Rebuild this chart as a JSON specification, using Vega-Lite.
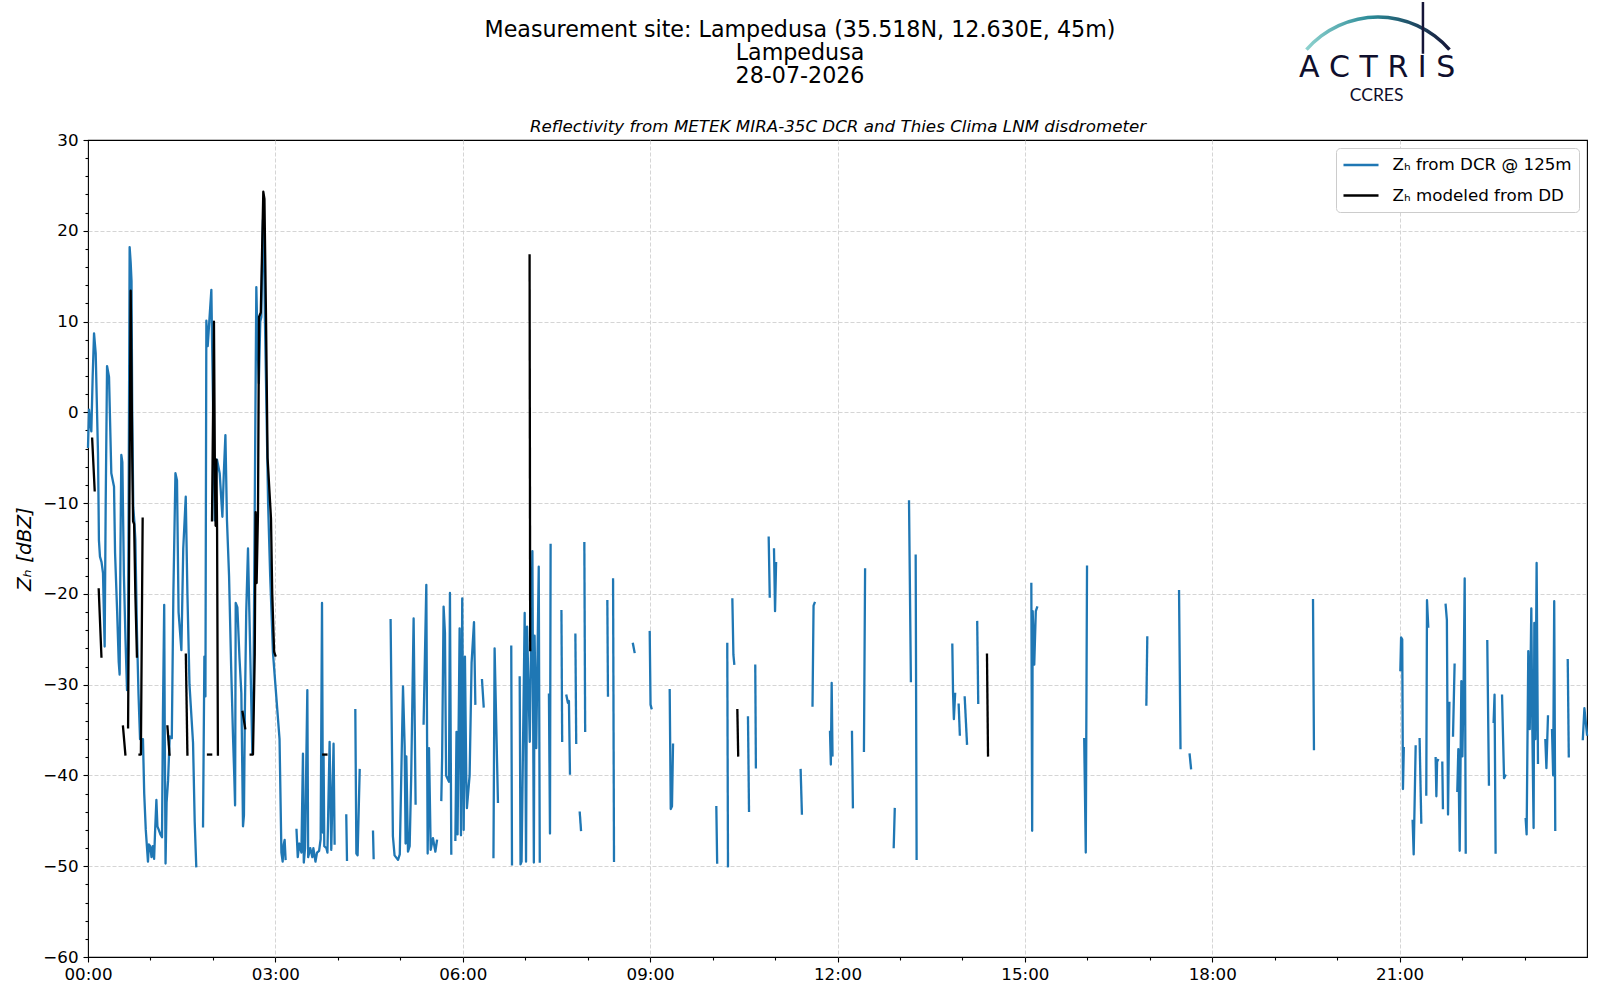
{
"$schema": "https://vega.github.io/schema/vega-lite/v6.json",
"autosize": {"type": "none"},
"padding": {"left": 88, "top": 140, "right": 13, "bottom": 43},
"width": 1499,
"height": 817,
"background": "white",
"config": {
  "font": "DejaVu Sans",
  "view": {"stroke": "#000000", "strokeWidth": 1.1},
  "axis": {"labelFont": "DejaVu Sans", "labelFontSize": 16.7, "labelColor": "#000000", "tickColor": "#000000", "tickWidth": 1.1, "domain": false, "gridColor": "#d0d0d0", "gridDash": [4, 2], "gridWidth": 0.9, "titleFont": "DejaVu Sans", "titleColor": "#000000", "titleFontWeight": "normal", "labelOverlap": false, "labelFlush": false, "labelBound": false}
},
"title": {"text": ["Measurement site: Lampedusa (35.518N, 12.630E, 45m)", "Lampedusa", "28-07-2026"], "font": "DejaVu Sans", "fontSize": 22.2, "fontWeight": "normal", "color": "#000000", "anchor": "middle", "frame": "group", "dx": -37.5, "offset": -86, "lineHeight": 23},
"data": {"values": [
{"src":"DCR","s":1,"m":0,"z":-3.8},{"src":"DCR","s":1,"m":1,"z":0.3},{"src":"DCR","s":1,"m":2,"z":-1},{"src":"DCR","s":1,"m":3.2,"z":-2.1},{"src":"DCR","s":1,"m":4.5,"z":4},{"src":"DCR","s":1,"m":5.8,"z":8.7},{"src":"DCR","s":1,"m":7.4,"z":6.5},{"src":"DCR","s":1,"m":9.6,"z":-4.5},{"src":"DCR","s":1,"m":10.5,"z":-14.1},{"src":"DCR","s":1,"m":11.5,"z":-15.9},{"src":"DCR","s":1,"m":13,"z":-16.5},{"src":"DCR","s":1,"m":14.4,"z":-17.7},{"src":"DCR","s":1,"m":15.2,"z":-22},{"src":"DCR","s":1,"m":16,"z":-25.8},{"src":"DCR","s":1,"m":17,"z":-10},{"src":"DCR","s":1,"m":18.3,"z":5.1},{"src":"DCR","s":1,"m":20.2,"z":3.9},{"src":"DCR","s":1,"m":22.4,"z":-6.7},{"src":"DCR","s":1,"m":25,"z":-8.2},{"src":"DCR","s":1,"m":26,"z":-15.5},{"src":"DCR","s":1,"m":28,"z":-22},{"src":"DCR","s":1,"m":29.5,"z":-27.5},{"src":"DCR","s":1,"m":30.4,"z":-28.9},{"src":"DCR","s":1,"m":31.2,"z":-15},{"src":"DCR","s":1,"m":32,"z":-4.7},{"src":"DCR","s":1,"m":33,"z":-5.5},{"src":"DCR","s":1,"m":34.5,"z":-18},{"src":"DCR","s":1,"m":36,"z":-25},{"src":"DCR","s":1,"m":37.5,"z":-30.6},{"src":"DCR","s":1,"m":38.5,"z":-26},{"src":"DCR","s":1,"m":40,"z":18.2},{"src":"DCR","s":1,"m":41,"z":16.5},{"src":"DCR","s":1,"m":41.8,"z":14.5},{"src":"DCR","s":1,"m":42.5,"z":0},{"src":"DCR","s":1,"m":43.5,"z":-10.5},{"src":"DCR","s":1,"m":44.5,"z":-12},{"src":"DCR","s":1,"m":45.5,"z":-14},{"src":"DCR","s":1,"m":47,"z":-24},{"src":"DCR","s":1,"m":48.5,"z":-31},{"src":"DCR","s":1,"m":50,"z":-36},{"src":"DCR","s":1,"m":52.8,"z":-36},{"src":"DCR","s":1,"m":54,"z":-42},{"src":"DCR","s":1,"m":55.5,"z":-46},{"src":"DCR","s":1,"m":57.6,"z":-49.5},{"src":"DCR","s":1,"m":58.5,"z":-47.6},{"src":"DCR","s":1,"m":59.8,"z":-47.8},{"src":"DCR","s":1,"m":61,"z":-49},{"src":"DCR","s":1,"m":62.3,"z":-47.8},{"src":"DCR","s":1,"m":63.5,"z":-49.2},{"src":"DCR","s":1,"m":64.5,"z":-46},{"src":"DCR","s":1,"m":65.7,"z":-42.7},{"src":"DCR","s":1,"m":66.7,"z":-45.6},{"src":"DCR","s":1,"m":68,"z":-46},{"src":"DCR","s":1,"m":69.5,"z":-46.5},{"src":"DCR","s":1,"m":71.1,"z":-46.8},{"src":"DCR","s":1,"m":72,"z":-33.1},{"src":"DCR","s":1,"m":73.2,"z":-21.2},{"src":"DCR","s":1,"m":73.7,"z":-34.4},{"src":"DCR","s":1,"m":74.5,"z":-49.7},{"src":"DCR","s":1,"m":75.5,"z":-43},{"src":"DCR","s":1,"m":76.9,"z":-40.6},{"src":"DCR","s":1,"m":78.5,"z":-35.7},{"src":"DCR","s":1,"m":80.5,"z":-35.9},{"src":"DCR","s":1,"m":82,"z":-20},{"src":"DCR","s":1,"m":84,"z":-6.7},{"src":"DCR","s":1,"m":85.5,"z":-7.5},{"src":"DCR","s":1,"m":87,"z":-22},{"src":"DCR","s":1,"m":89.7,"z":-26.2},{"src":"DCR","s":1,"m":91.5,"z":-15},{"src":"DCR","s":1,"m":93.9,"z":-9.3},{"src":"DCR","s":1,"m":95.5,"z":-20},{"src":"DCR","s":1,"m":97.5,"z":-30},{"src":"DCR","s":1,"m":100.9,"z":-36.4},{"src":"DCR","s":1,"m":102.5,"z":-45.1},{"src":"DCR","s":1,"m":104,"z":-50},
{"src":"DCR","s":2,"m":110.5,"z":-45.6},{"src":"DCR","s":2,"m":111.8,"z":-26.9},{"src":"DCR","s":2,"m":112.8,"z":-31.3},{"src":"DCR","s":2,"m":113.7,"z":10.1},{"src":"DCR","s":2,"m":115,"z":7.3},{"src":"DCR","s":2,"m":116.5,"z":10},{"src":"DCR","s":2,"m":118.5,"z":13.5},{"src":"DCR","s":2,"m":119.3,"z":7},{"src":"DCR","s":2,"m":120.5,"z":-2},{"src":"DCR","s":2,"m":121.7,"z":-11.9},{"src":"DCR","s":2,"m":123.9,"z":-5.2},{"src":"DCR","s":2,"m":126.5,"z":-6.7},{"src":"DCR","s":2,"m":129.1,"z":-11.5},{"src":"DCR","s":2,"m":130.5,"z":-6.6},{"src":"DCR","s":2,"m":132,"z":-2.5},{"src":"DCR","s":2,"m":133.5,"z":-11.9},{"src":"DCR","s":2,"m":135.5,"z":-18},{"src":"DCR","s":2,"m":137.5,"z":-28},{"src":"DCR","s":2,"m":139.3,"z":-35.7},{"src":"DCR","s":2,"m":140.5,"z":-40},{"src":"DCR","s":2,"m":141.3,"z":-43.3},{"src":"DCR","s":2,"m":141.9,"z":-21},{"src":"DCR","s":2,"m":143.5,"z":-21.5},{"src":"DCR","s":2,"m":145.5,"z":-27},{"src":"DCR","s":2,"m":147.3,"z":-30.9},{"src":"DCR","s":2,"m":148.9,"z":-45.6},{"src":"DCR","s":2,"m":149.8,"z":-44.4},{"src":"DCR","s":2,"m":150.7,"z":-33},{"src":"DCR","s":2,"m":152,"z":-22},{"src":"DCR","s":2,"m":153.7,"z":-15},{"src":"DCR","s":2,"m":155,"z":-22},{"src":"DCR","s":2,"m":156.3,"z":-28.9},{"src":"DCR","s":2,"m":157.9,"z":-37.6},{"src":"DCR","s":2,"m":159,"z":-30},{"src":"DCR","s":2,"m":160.5,"z":-5},{"src":"DCR","s":2,"m":161.7,"z":13.8},{"src":"DCR","s":2,"m":162.8,"z":8},{"src":"DCR","s":2,"m":164.1,"z":3.2},{"src":"DCR","s":2,"m":165.5,"z":10},{"src":"DCR","s":2,"m":166.5,"z":10.5},{"src":"DCR","s":2,"m":167.5,"z":18},{"src":"DCR","s":2,"m":168.1,"z":21.2},{"src":"DCR","s":2,"m":169,"z":19},{"src":"DCR","s":2,"m":170,"z":10},{"src":"DCR","s":2,"m":171.5,"z":0},{"src":"DCR","s":2,"m":173,"z":-10},{"src":"DCR","s":2,"m":175,"z":-18},{"src":"DCR","s":2,"m":177.7,"z":-26.5},{"src":"DCR","s":2,"m":180,"z":-30},{"src":"DCR","s":2,"m":182,"z":-33},{"src":"DCR","s":2,"m":184,"z":-36},{"src":"DCR","s":2,"m":185.8,"z":-48.5},{"src":"DCR","s":2,"m":187,"z":-49.5},{"src":"DCR","s":2,"m":188,"z":-47.6},{"src":"DCR","s":2,"m":188.9,"z":-47.1},{"src":"DCR","s":2,"m":189.8,"z":-49.2},
{"src":"DCR","s":3,"m":200.3,"z":-46},{"src":"DCR","s":3,"m":201.5,"z":-49},{"src":"DCR","s":3,"m":203,"z":-47.5},{"src":"DCR","s":3,"m":205,"z":-48.5},{"src":"DCR","s":3,"m":206.5,"z":-37.6},{"src":"DCR","s":3,"m":207.3,"z":-49.6},{"src":"DCR","s":3,"m":208.5,"z":-48},{"src":"DCR","s":3,"m":210.7,"z":-30.6},{"src":"DCR","s":3,"m":211.5,"z":-49},{"src":"DCR","s":3,"m":213.5,"z":-48},{"src":"DCR","s":3,"m":215.5,"z":-49},{"src":"DCR","s":3,"m":216.5,"z":-48},{"src":"DCR","s":3,"m":218.5,"z":-49.5},{"src":"DCR","s":3,"m":220,"z":-48.5},{"src":"DCR","s":3,"m":222,"z":-48.3},{"src":"DCR","s":3,"m":223.5,"z":-47},{"src":"DCR","s":3,"m":224.8,"z":-21},{"src":"DCR","s":3,"m":225.7,"z":-46.3},{"src":"DCR","s":3,"m":226.3,"z":-37.7},{"src":"DCR","s":3,"m":227,"z":-47.8},{"src":"DCR","s":3,"m":229,"z":-48},{"src":"DCR","s":3,"m":230,"z":-48.5},{"src":"DCR","s":3,"m":232.1,"z":-36.3},{"src":"DCR","s":3,"m":233.7,"z":-48.2},{"src":"DCR","s":3,"m":235.9,"z":-36.5},{"src":"DCR","s":3,"m":236.9,"z":-47.5},
{"src":"DCR","s":4,"m":248.1,"z":-44.4},{"src":"DCR","s":4,"m":248.8,"z":-49.3},
{"src":"DCR","s":5,"m":256.8,"z":-32.8},{"src":"DCR","s":5,"m":257.8,"z":-48.6},{"src":"DCR","s":5,"m":259,"z":-48.8},{"src":"DCR","s":5,"m":261,"z":-39.4},
{"src":"DCR","s":6,"m":273.8,"z":-46.2},{"src":"DCR","s":6,"m":274.4,"z":-49.1},
{"src":"DCR","s":7,"m":290.7,"z":-22.9},{"src":"DCR","s":7,"m":292.9,"z":-46.7},{"src":"DCR","s":7,"m":294.5,"z":-48.8},{"src":"DCR","s":7,"m":297.8,"z":-49.3},{"src":"DCR","s":7,"m":299.5,"z":-48.7},{"src":"DCR","s":7,"m":302.6,"z":-30.2},{"src":"DCR","s":7,"m":304.2,"z":-36.8},{"src":"DCR","s":7,"m":305.1,"z":-47.5},{"src":"DCR","s":7,"m":305.8,"z":-37.9},{"src":"DCR","s":7,"m":307.4,"z":-48.4},{"src":"DCR","s":7,"m":309,"z":-47.8},{"src":"DCR","s":7,"m":310.5,"z":-40},{"src":"DCR","s":7,"m":312.8,"z":-22.7},{"src":"DCR","s":7,"m":314.7,"z":-43.1},
{"src":"DCR","s":8,"m":322.4,"z":-34.3},{"src":"DCR","s":8,"m":325,"z":-19},{"src":"DCR","s":8,"m":326.3,"z":-48.6},{"src":"DCR","s":8,"m":327.6,"z":-37},{"src":"DCR","s":8,"m":329.2,"z":-48.2},{"src":"DCR","s":8,"m":331.4,"z":-46.9},{"src":"DCR","s":8,"m":333.7,"z":-48.4},{"src":"DCR","s":8,"m":335.2,"z":-47.2},
{"src":"DCR","s":9,"m":339.4,"z":-42.7},{"src":"DCR","s":9,"m":340.2,"z":-38},{"src":"DCR","s":9,"m":341.6,"z":-21.4},{"src":"DCR","s":9,"m":342.9,"z":-24.3},{"src":"DCR","s":9,"m":344,"z":-40},{"src":"DCR","s":9,"m":346.8,"z":-40.7},{"src":"DCR","s":9,"m":347.7,"z":-19.9},{"src":"DCR","s":9,"m":349,"z":-48.6},
{"src":"DCR","s":10,"m":352.9,"z":-47.1},{"src":"DCR","s":10,"m":354,"z":-35.2},{"src":"DCR","s":10,"m":355,"z":-46.5},{"src":"DCR","s":10,"m":357,"z":-23.8},{"src":"DCR","s":10,"m":358.3,"z":-46.6},{"src":"DCR","s":10,"m":359.5,"z":-20.5},{"src":"DCR","s":10,"m":360.9,"z":-46},{"src":"DCR","s":10,"m":362.1,"z":-26.9},{"src":"DCR","s":10,"m":363.4,"z":-40.5},{"src":"DCR","s":10,"m":364,"z":-43.6},{"src":"DCR","s":10,"m":366.6,"z":-40},{"src":"DCR","s":10,"m":368.5,"z":-27.6},{"src":"DCR","s":10,"m":370.8,"z":-23.1},{"src":"DCR","s":10,"m":372.1,"z":-32.1},
{"src":"DCR","s":11,"m":378.5,"z":-29.5},{"src":"DCR","s":11,"m":380.1,"z":-32.4},
{"src":"DCR","s":12,"m":389.5,"z":-49},{"src":"DCR","s":12,"m":390.6,"z":-26},{"src":"DCR","s":12,"m":393.8,"z":-42.9},
{"src":"DCR","s":13,"m":406.6,"z":-25.8},{"src":"DCR","s":13,"m":407.3,"z":-49.8},
{"src":"DCR","s":14,"m":414.7,"z":-29.2},{"src":"DCR","s":14,"m":415.5,"z":-49.8},{"src":"DCR","s":14,"m":416.5,"z":-49.5},{"src":"DCR","s":14,"m":419.5,"z":-22.1},{"src":"DCR","s":14,"m":420.8,"z":-49.5},{"src":"DCR","s":14,"m":421.8,"z":-23.6},{"src":"DCR","s":14,"m":424.4,"z":-36.3},{"src":"DCR","s":14,"m":426.9,"z":-15.3},{"src":"DCR","s":14,"m":428.3,"z":-49.6},{"src":"DCR","s":14,"m":429,"z":-24.6},{"src":"DCR","s":14,"m":430.6,"z":-37},{"src":"DCR","s":14,"m":433,"z":-17},{"src":"DCR","s":14,"m":434,"z":-49.5},
{"src":"DCR","s":15,"m":442.8,"z":-31.1},{"src":"DCR","s":15,"m":443.8,"z":-46.4},{"src":"DCR","s":15,"m":444.4,"z":-14.6},
{"src":"DCR","s":16,"m":454.8,"z":-21.9},{"src":"DCR","s":16,"m":455.5,"z":-36.2},
{"src":"DCR","s":17,"m":459.6,"z":-31.2},{"src":"DCR","s":17,"m":461,"z":-32},{"src":"DCR","s":17,"m":462,"z":-31.8},{"src":"DCR","s":17,"m":463,"z":-39.8},
{"src":"DCR","s":18,"m":468.2,"z":-24.5},{"src":"DCR","s":18,"m":469,"z":-36.4},
{"src":"DCR","s":19,"m":472.4,"z":-44.1},{"src":"DCR","s":19,"m":473.6,"z":-46},
{"src":"DCR","s":20,"m":476.8,"z":-14.4},{"src":"DCR","s":20,"m":477.6,"z":-35.1},
{"src":"DCR","s":21,"m":498.9,"z":-20.8},{"src":"DCR","s":21,"m":499.5,"z":-31.2},
{"src":"DCR","s":22,"m":504.4,"z":-18.4},{"src":"DCR","s":22,"m":505.3,"z":-49.4},
{"src":"DCR","s":23,"m":523.5,"z":-25.5},{"src":"DCR","s":23,"m":525,"z":-26.4},
{"src":"DCR","s":24,"m":539.6,"z":-24.2},{"src":"DCR","s":24,"m":540.4,"z":-32.2},{"src":"DCR","s":24,"m":541.3,"z":-32.6},
{"src":"DCR","s":25,"m":558.8,"z":-30.6},{"src":"DCR","s":25,"m":559.8,"z":-43.7},{"src":"DCR","s":25,"m":561,"z":-43.4},{"src":"DCR","s":25,"m":562,"z":-36.6},
{"src":"DCR","s":26,"m":603.6,"z":-43.5},{"src":"DCR","s":26,"m":604.4,"z":-49.6},
{"src":"DCR","s":27,"m":614.1,"z":-25.5},{"src":"DCR","s":27,"m":614.8,"z":-50},
{"src":"DCR","s":28,"m":619,"z":-20.6},{"src":"DCR","s":28,"m":620,"z":-26.7},{"src":"DCR","s":28,"m":620.8,"z":-27.7},
{"src":"DCR","s":29,"m":634,"z":-33.6},{"src":"DCR","s":29,"m":635,"z":-43.9},
{"src":"DCR","s":30,"m":641,"z":-27.9},{"src":"DCR","s":30,"m":641.6,"z":-39.1},
{"src":"DCR","s":31,"m":653.9,"z":-13.8},{"src":"DCR","s":31,"m":654.9,"z":-20.3},
{"src":"DCR","s":32,"m":659,"z":-15.1},{"src":"DCR","s":32,"m":660,"z":-21.9},{"src":"DCR","s":32,"m":661,"z":-16.6},
{"src":"DCR","s":33,"m":684.6,"z":-39.4},{"src":"DCR","s":33,"m":685.8,"z":-44.2},
{"src":"DCR","s":34,"m":696,"z":-32.3},{"src":"DCR","s":34,"m":697,"z":-21.3},{"src":"DCR","s":34,"m":698,"z":-21},
{"src":"DCR","s":35,"m":712.8,"z":-35.2},{"src":"DCR","s":35,"m":713.6,"z":-38.8},{"src":"DCR","s":35,"m":714.4,"z":-29.8},{"src":"DCR","s":35,"m":715.2,"z":-37.8},
{"src":"DCR","s":36,"m":733.9,"z":-35.2},{"src":"DCR","s":36,"m":734.8,"z":-43.5},
{"src":"DCR","s":37,"m":745.4,"z":-37.3},{"src":"DCR","s":37,"m":746.5,"z":-17.3},
{"src":"DCR","s":38,"m":774,"z":-47.9},{"src":"DCR","s":38,"m":775,"z":-43.7},
{"src":"DCR","s":39,"m":788.7,"z":-9.8},{"src":"DCR","s":39,"m":790.5,"z":-29.6},
{"src":"DCR","s":40,"m":795.1,"z":-15.8},{"src":"DCR","s":40,"m":796,"z":-49.2},
{"src":"DCR","s":41,"m":830.3,"z":-25.6},{"src":"DCR","s":41,"m":831,"z":-30.9},{"src":"DCR","s":41,"m":831.8,"z":-33.8},{"src":"DCR","s":41,"m":833,"z":-31},
{"src":"DCR","s":42,"m":836.4,"z":-32.2},{"src":"DCR","s":42,"m":837.5,"z":-35.5},
{"src":"DCR","s":43,"m":842.2,"z":-31.4},{"src":"DCR","s":43,"m":844.4,"z":-36.5},
{"src":"DCR","s":44,"m":854.2,"z":-23.1},{"src":"DCR","s":44,"m":855.2,"z":-32},
{"src":"DCR","s":45,"m":906.2,"z":-18.9},{"src":"DCR","s":45,"m":907,"z":-46.1},{"src":"DCR","s":45,"m":907.5,"z":-21.9},{"src":"DCR","s":45,"m":909,"z":-27.8},{"src":"DCR","s":45,"m":910.5,"z":-21.9},{"src":"DCR","s":45,"m":911.7,"z":-21.5},
{"src":"DCR","s":46,"m":957,"z":-36},{"src":"DCR","s":46,"m":958.5,"z":-48.5},{"src":"DCR","s":46,"m":959.7,"z":-17},
{"src":"DCR","s":47,"m":1016.7,"z":-32.2},{"src":"DCR","s":47,"m":1017.6,"z":-24.8},
{"src":"DCR","s":48,"m":1048.1,"z":-19.7},{"src":"DCR","s":48,"m":1049.5,"z":-37},
{"src":"DCR","s":49,"m":1058.3,"z":-37.7},{"src":"DCR","s":49,"m":1059.6,"z":-39.2},
{"src":"DCR","s":50,"m":1176.8,"z":-20.7},{"src":"DCR","s":50,"m":1177.7,"z":-37.1},
{"src":"DCR","s":51,"m":1260.7,"z":-28.4},{"src":"DCR","s":51,"m":1261.4,"z":-24.8},{"src":"DCR","s":51,"m":1262.5,"z":-25},{"src":"DCR","s":51,"m":1263.2,"z":-41.5},{"src":"DCR","s":51,"m":1264,"z":-37},
{"src":"DCR","s":52,"m":1272.5,"z":-45},{"src":"DCR","s":52,"m":1273.5,"z":-48.7},{"src":"DCR","s":52,"m":1275.4,"z":-36.8},
{"src":"DCR","s":53,"m":1279.2,"z":-36},{"src":"DCR","s":53,"m":1280.8,"z":-45.2},
{"src":"DCR","s":54,"m":1285.6,"z":-42.1},{"src":"DCR","s":54,"m":1286.3,"z":-20.7},{"src":"DCR","s":54,"m":1287.5,"z":-23.6},
{"src":"DCR","s":55,"m":1294.6,"z":-38.1},{"src":"DCR","s":55,"m":1295.3,"z":-42.3},{"src":"DCR","s":55,"m":1296,"z":-38.5},{"src":"DCR","s":55,"m":1296.8,"z":-38.3},
{"src":"DCR","s":56,"m":1301,"z":-38.6},{"src":"DCR","s":56,"m":1301.6,"z":-43.6},
{"src":"DCR","s":57,"m":1304.2,"z":-21.2},{"src":"DCR","s":57,"m":1305.4,"z":-22.9},{"src":"DCR","s":57,"m":1306.5,"z":-44.3},{"src":"DCR","s":57,"m":1307.8,"z":-32},
{"src":"DCR","s":58,"m":1311.3,"z":-35.6},{"src":"DCR","s":58,"m":1312.8,"z":-27.8},
{"src":"DCR","s":59,"m":1315.4,"z":-41.7},{"src":"DCR","s":59,"m":1316.4,"z":-37.1},{"src":"DCR","s":59,"m":1317.7,"z":-48.3},{"src":"DCR","s":59,"m":1319.3,"z":-29.6},{"src":"DCR","s":59,"m":1320.3,"z":-37.9},{"src":"DCR","s":59,"m":1321.5,"z":-29.5},{"src":"DCR","s":59,"m":1322.5,"z":-18.3},{"src":"DCR","s":59,"m":1323.5,"z":-48.5},
{"src":"DCR","s":60,"m":1344.2,"z":-25.2},{"src":"DCR","s":60,"m":1345.8,"z":-41},
{"src":"DCR","s":61,"m":1350.3,"z":-34.1},{"src":"DCR","s":61,"m":1351.2,"z":-31.1},{"src":"DCR","s":61,"m":1352.2,"z":-48.5},
{"src":"DCR","s":62,"m":1358.4,"z":-31.2},{"src":"DCR","s":62,"m":1360.3,"z":-40.3},{"src":"DCR","s":62,"m":1361.5,"z":-40},
{"src":"DCR","s":63,"m":1381.1,"z":-44.8},{"src":"DCR","s":63,"m":1382,"z":-46.5},{"src":"DCR","s":63,"m":1383.6,"z":-26.3},{"src":"DCR","s":63,"m":1385,"z":-34.9},{"src":"DCR","s":63,"m":1386.5,"z":-21.6},{"src":"DCR","s":63,"m":1387.5,"z":-34.9},{"src":"DCR","s":63,"m":1388.7,"z":-45.8},{"src":"DCR","s":63,"m":1389.4,"z":-23.2},{"src":"DCR","s":63,"m":1390.4,"z":-36},{"src":"DCR","s":63,"m":1391.6,"z":-16.6},{"src":"DCR","s":63,"m":1392.9,"z":-38.6},
{"src":"DCR","s":64,"m":1400,"z":-36.1},{"src":"DCR","s":64,"m":1401,"z":-39.2},{"src":"DCR","s":64,"m":1402.5,"z":-33.5},
{"src":"DCR","s":65,"m":1406.4,"z":-35},{"src":"DCR","s":65,"m":1407.5,"z":-40},{"src":"DCR","s":65,"m":1408.5,"z":-20.8},{"src":"DCR","s":65,"m":1409.5,"z":-46},
{"src":"DCR","s":66,"m":1421.5,"z":-27.3},{"src":"DCR","s":66,"m":1422.5,"z":-37.9},
{"src":"DCR","s":67,"m":1436,"z":-36},{"src":"DCR","s":67,"m":1437.5,"z":-32.6},{"src":"DCR","s":67,"m":1440,"z":-35.5},
{"src":"DD","s":101,"m":4,"z":-2.9},{"src":"DD","s":101,"m":6.4,"z":-8.6},
{"src":"DD","s":102,"m":10.3,"z":-19.5},{"src":"DD","s":102,"m":12.9,"z":-26.9},
{"src":"DD","s":103,"m":33.6,"z":-34.6},{"src":"DD","s":103,"m":35.9,"z":-37.7},
{"src":"DD","s":104,"m":38.5,"z":-34.7},{"src":"DD","s":104,"m":41,"z":13.4},{"src":"DD","s":104,"m":41.8,"z":5},{"src":"DD","s":104,"m":42.5,"z":-5},{"src":"DD","s":104,"m":43.3,"z":-12},{"src":"DD","s":104,"m":44.3,"z":-12.3},{"src":"DD","s":104,"m":45.5,"z":-20},{"src":"DD","s":104,"m":47,"z":-26.9},
{"src":"DD","s":105,"m":49.5,"z":-37.7},{"src":"DD","s":105,"m":50.8,"z":-37.7},{"src":"DD","s":105,"m":52.5,"z":-11.7},
{"src":"DD","s":106,"m":76.3,"z":-34.6},{"src":"DD","s":106,"m":78.3,"z":-37.7},
{"src":"DD","s":107,"m":94,"z":-26.7},{"src":"DD","s":107,"m":95.5,"z":-37.7},
{"src":"DD","s":108,"m":115.3,"z":-37.7},{"src":"DD","s":108,"m":118.3,"z":-37.7},
{"src":"DD","s":109,"m":119.1,"z":-11.9},{"src":"DD","s":109,"m":121,"z":10},{"src":"DD","s":109,"m":122,"z":-8},{"src":"DD","s":109,"m":122.6,"z":-12.5},{"src":"DD","s":109,"m":123.3,"z":-5.2},{"src":"DD","s":109,"m":124,"z":-12.9},{"src":"DD","s":109,"m":124.8,"z":-37.7},
{"src":"DD","s":110,"m":148.5,"z":-33},{"src":"DD","s":110,"m":151,"z":-34.8},
{"src":"DD","s":111,"m":156.3,"z":-37.7},{"src":"DD","s":111,"m":158.5,"z":-37.7},{"src":"DD","s":111,"m":160.2,"z":-26.6},{"src":"DD","s":111,"m":161,"z":-11},{"src":"DD","s":111,"m":162,"z":-18.8},{"src":"DD","s":111,"m":163.3,"z":-11},{"src":"DD","s":111,"m":164.3,"z":10.5},{"src":"DD","s":111,"m":166,"z":11},{"src":"DD","s":111,"m":168.4,"z":24.3},{"src":"DD","s":111,"m":169.5,"z":23.5},{"src":"DD","s":111,"m":171,"z":10.5},{"src":"DD","s":111,"m":172.5,"z":-5},{"src":"DD","s":111,"m":175.8,"z":-11.7},{"src":"DD","s":111,"m":177,"z":-20},{"src":"DD","s":111,"m":178.8,"z":-26.4},{"src":"DD","s":111,"m":180,"z":-26.8},
{"src":"DD","s":112,"m":226,"z":-37.7},{"src":"DD","s":112,"m":229,"z":-37.7},
{"src":"DD","s":113,"m":424.2,"z":17.3},{"src":"DD","s":113,"m":424.8,"z":-26.2},
{"src":"DD","s":114,"m":623.8,"z":-32.8},{"src":"DD","s":114,"m":624.6,"z":-37.8},
{"src":"DD","s":115,"m":863.6,"z":-26.7},{"src":"DD","s":115,"m":864.6,"z":-37.8}
]},
"layer": [
{
  "transform": [{"filter": "datum.src === 'DCR'"}],
  "mark": {"type": "line", "strokeWidth": 2.3, "strokeJoin": "round", "strokeCap": "square"},
  "encoding": {
    "x": {"field": "m", "type": "quantitative", "scale": {"domain": [0, 1440], "nice": false, "zero": false},
      "axis": {"orient": "bottom", "title": null, "values": [0,60,120,180,240,300,360,420,480,540,600,660,720,780,840,900,960,1020,1080,1140,1200,1260,1320,1380],
        "labelExpr": "datum.value % 180 === 0 ? ((datum.value < 600 ? '0' : '') + (datum.value / 60) + ':00') : ''",
        "tickSize": {"condition": {"test": "datum.value % 180 === 0", "value": 5}, "value": 3},
        "grid": true,
        "gridOpacity": {"condition": {"test": "datum.value % 180 === 0 && datum.value > 0", "value": 1}, "value": 0},
        "labelPadding": 4}},
    "y": {"field": "z", "type": "quantitative", "scale": {"domain": [-60, 30], "nice": false, "zero": false},
      "axis": {"orient": "left", "title": "Zₕ [dBZ]", "titleFontStyle": "italic", "titleFontSize": 20, "titlePadding": 8,
        "values": [-60,-58,-56,-54,-52,-50,-48,-46,-44,-42,-40,-38,-36,-34,-32,-30,-28,-26,-24,-22,-20,-18,-16,-14,-12,-10,-8,-6,-4,-2,0,2,4,6,8,10,12,14,16,18,20,22,24,26,28,30],
        "labelExpr": "datum.value % 10 === 0 ? datum.label : ''",
        "tickSize": {"condition": {"test": "datum.value % 10 === 0", "value": 5}, "value": 3},
        "grid": true,
        "gridOpacity": {"condition": {"test": "datum.value % 10 === 0 && datum.value > -60 && datum.value < 30", "value": 1}, "value": 0},
        "labelPadding": 5}},
    "color": {"field": "src", "type": "nominal", "scale": {"domain": ["DCR", "DD"], "range": ["#1f77b4", "#000000"]},
      "legend": {"title": null, "orient": "top-right", "offset": 8, "symbolType": "M-2.06,0H2.06", "symbolStrokeWidth": 2.3, "symbolSize": 289, "symbolOffset": 8, "labelFont": "DejaVu Sans", "labelFontSize": 16.7, "labelColor": "#000000", "labelLimit": 400, "labelOffset": 21.5, "rowPadding": 11.5, "padding": 7, "strokeColor": "#cccccc", "fillColor": "#ffffff", "cornerRadius": 4,
        "labelExpr": "datum.value === 'DCR' ? 'Zₕ from DCR @ 125m' : 'Zₕ modeled from DD'"}},
    "detail": {"field": "s"}
  }
},
{
  "transform": [{"filter": "datum.src === 'DD'"}],
  "mark": {"type": "line", "strokeWidth": 2.3, "strokeJoin": "round", "strokeCap": "square"},
  "encoding": {
    "x": {"field": "m", "type": "quantitative", "scale": {"domain": [0, 1440], "nice": false, "zero": false},
      "axis": {"orient": "top", "title": "Reflectivity from METEK MIRA-35C DCR and Thies Clima LNM disdrometer", "titleFontStyle": "italic", "titleFontSize": 16.7, "titleFontWeight": "normal", "labels": false, "ticks": false, "domain": false, "grid": false, "titlePadding": 5}},
    "y": {"field": "z", "type": "quantitative", "axis": null},
    "color": {"field": "src", "type": "nominal", "scale": {"domain": ["DCR", "DD"], "range": ["#1f77b4", "#000000"]},
      "legend": {"title": null, "orient": "top-right", "offset": 8, "symbolType": "M-2.06,0H2.06", "symbolStrokeWidth": 2.3, "symbolSize": 289, "symbolOffset": 8, "labelFont": "DejaVu Sans", "labelFontSize": 16.7, "labelColor": "#000000", "labelLimit": 400, "labelOffset": 21.5, "rowPadding": 11.5, "padding": 7, "strokeColor": "#cccccc", "fillColor": "#ffffff", "cornerRadius": 4,
        "labelExpr": "datum.value === 'DCR' ? 'Zₕ from DCR @ 125m' : 'Zₕ modeled from DD'"}},
    "detail": {"field": "s"}
  }
},
{
  "data": {"values": [{}]},
  "mark": {"type": "arc", "clip": false, "innerRadius": 93, "outerRadius": 96.5, "theta": -0.855, "theta2": 0.855,
    "fill": {"gradient": "linear", "x1": 0, "y1": 0, "x2": 1, "y2": 0, "stops": [{"offset": 0, "color": "#8fd3cf"}, {"offset": 0.45, "color": "#2b8a97"}, {"offset": 1, "color": "#151538"}]}},
  "encoding": {
    "x": {"datum": 1239.2, "type": "quantitative", "axis": null},
    "y": {"datum": 33.1, "type": "quantitative", "axis": null}
  }
},
{
  "data": {"values": [{}]},
  "mark": {"type": "rule", "clip": false, "color": "#151538", "strokeWidth": 2.5},
  "encoding": {
    "x": {"datum": 1282.4, "type": "quantitative", "axis": null},
    "y": {"datum": 45.2, "type": "quantitative", "axis": null},
    "y2": {"datum": 39.5}
  }
},
{
  "data": {"values": [{}]},
  "mark": {"type": "text", "clip": false, "text": "A C T R I S", "font": "DejaVu Sans", "fontSize": 30, "color": "#0f0f2d", "align": "center", "baseline": "alphabetic"},
  "encoding": {
    "x": {"datum": 1238.4, "type": "quantitative", "axis": null},
    "y": {"datum": 36.9, "type": "quantitative", "axis": null}
  }
},
{
  "data": {"values": [{}]},
  "mark": {"type": "text", "clip": false, "text": "CCRES", "font": "Lato", "fontSize": 17.5, "color": "#0f0f2d", "align": "center", "baseline": "alphabetic"},
  "encoding": {
    "x": {"datum": 1237.9, "type": "quantitative", "axis": null},
    "y": {"datum": 34.3, "type": "quantitative", "axis": null}
  }
}
],
"resolve": {"axis": {"x": "independent", "y": "independent"}}
}
